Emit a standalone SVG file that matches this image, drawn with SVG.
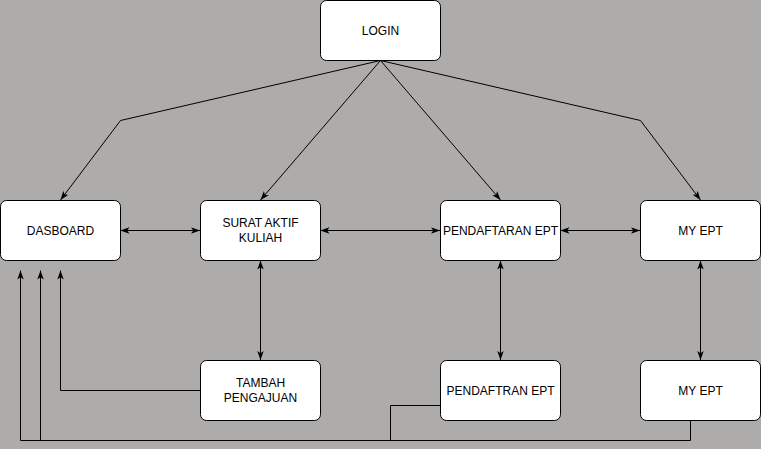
<svg xmlns="http://www.w3.org/2000/svg" width="761" height="449" viewBox="0 0 761 449">
<style>
.n rect{fill:#fff;stroke:#000;stroke-width:1}
.n text{font-family:"Liberation Sans",Arial,sans-serif;font-size:12px;fill:#000;text-anchor:middle}
.e path{fill:none;stroke:#000;stroke-width:1}
</style>
<defs>
<marker id="a" viewBox="0 0 10 8" refX="10" refY="4" markerWidth="9" markerHeight="7.2" markerUnits="userSpaceOnUse" orient="auto-start-reverse">
<path d="M0,0.4 L10,4 L0,7.6 L2.5,4 z" fill="#000"/>
</marker>
</defs>
<rect width="761" height="449" fill="#adacaa"/>
<g id="connectors" class="e">
<path d="M380.5,60.5 L120.5,120.5 L60.5,200" marker-end="url(#a)"/>
<path d="M380.5,60.5 L260.5,200" marker-end="url(#a)"/>
<path d="M380.5,60.5 L500.5,200" marker-end="url(#a)"/>
<path d="M380.5,60.5 L640.5,120.5 L700.5,200" marker-end="url(#a)"/>
<path d="M120.5,230.5 L200,230.5" marker-start="url(#a)" marker-end="url(#a)"/>
<path d="M320.5,230.5 L440,230.5" marker-start="url(#a)" marker-end="url(#a)"/>
<path d="M560.5,230.5 L640,230.5" marker-start="url(#a)" marker-end="url(#a)"/>
<path d="M260.5,260.5 L260.5,360" marker-start="url(#a)" marker-end="url(#a)"/>
<path d="M500.5,260.5 L500.5,360" marker-start="url(#a)" marker-end="url(#a)"/>
<path d="M700.5,260.5 L700.5,360" marker-start="url(#a)" marker-end="url(#a)"/>
<path d="M200.5,390.5 L60.5,390.5 L60.5,270.5" marker-end="url(#a)"/>
<path d="M440.5,405.5 L390.5,405.5 L390.5,440.5 L40.5,440.5 L40.5,270.5" marker-end="url(#a)"/>
<path d="M690.5,420.5 L690.5,440.5 L20.5,440.5 L20.5,270.5" marker-end="url(#a)"/>
</g>
<g id="login" class="n"><rect x="320.5" y="0.5" width="120" height="60" rx="6"/><text x="380.5" y="34.5">LOGIN</text></g>
<g id="dasboard" class="n"><rect x="0.5" y="200.5" width="120" height="60" rx="6"/><text x="60.5" y="234.5">DASBOARD</text></g>
<g id="surat" class="n"><rect x="200.5" y="200.5" width="120" height="60" rx="6"/><text x="260.5" y="227">SURAT AKTIF</text><text x="260.5" y="242">KULIAH</text></g>
<g id="pendaftaran" class="n"><rect x="440.5" y="200.5" width="120" height="60" rx="6"/><text x="500.5" y="234.5">PENDAFTARAN EPT</text></g>
<g id="myept" class="n"><rect x="640.5" y="200.5" width="120" height="60" rx="6"/><text x="700.5" y="234.5">MY EPT</text></g>
<g id="tambah" class="n"><rect x="200.5" y="360.5" width="120" height="60" rx="6"/><text x="260.5" y="387">TAMBAH</text><text x="260.5" y="402">PENGAJUAN</text></g>
<g id="pendaftran" class="n"><rect x="440.5" y="360.5" width="120" height="60" rx="6"/><text x="500.5" y="394.5">PENDAFTRAN EPT</text></g>
<g id="myept2" class="n"><rect x="640.5" y="360.5" width="120" height="60" rx="6"/><text x="700.5" y="394.5">MY EPT</text></g>
</svg>
